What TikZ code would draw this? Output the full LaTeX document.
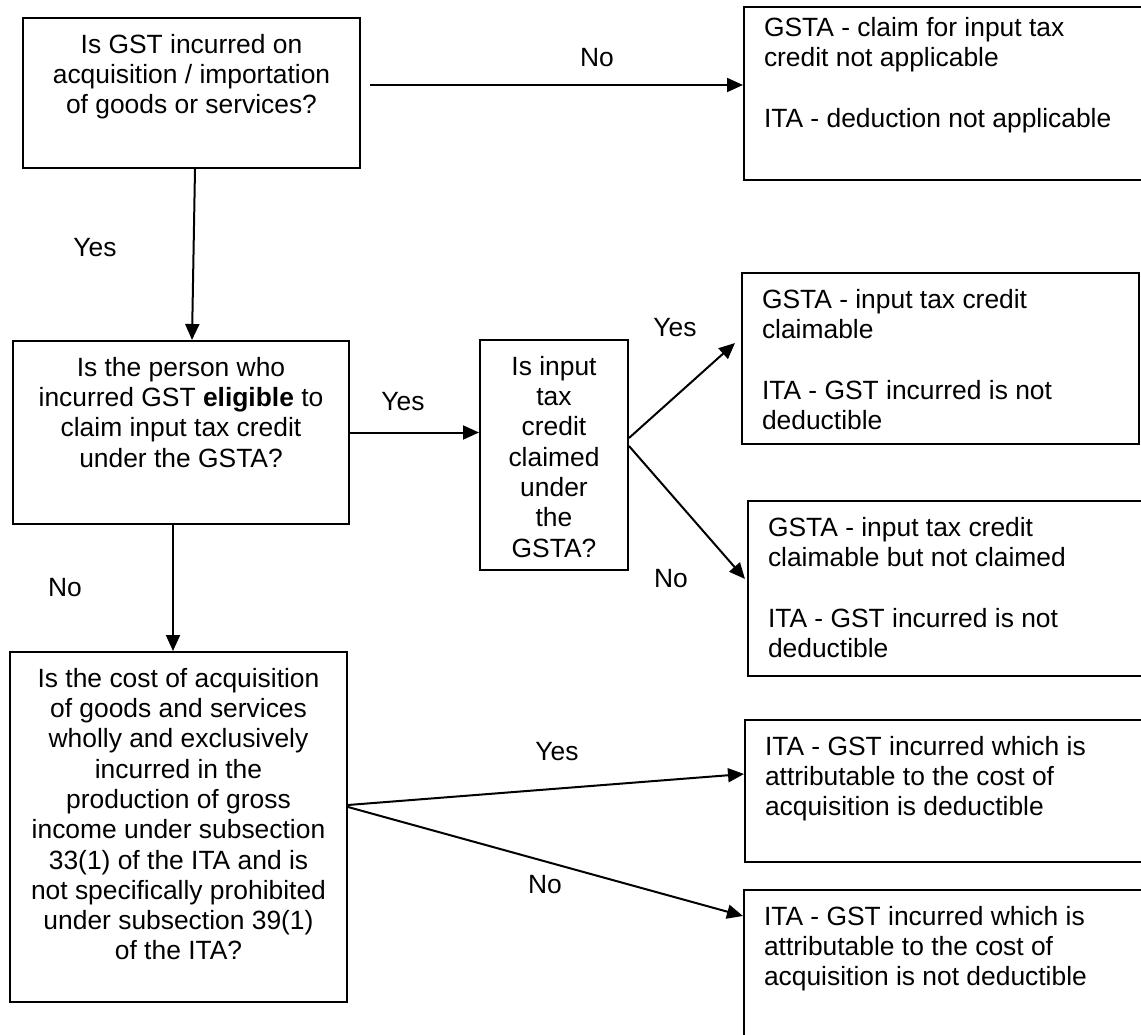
\documentclass[tikz,border=0pt]{standalone}
\usepackage{fontspec}
\setmainfont{Liberation Sans}
\usetikzlibrary{arrows.meta}
\newcommand{\boxtxt}[3]{\parbox[c][#1][t]{#2}{#3}}

\begin{document}
\begin{tikzpicture}[
  x=1pt, y=-1pt,
  every node/.style={font=\fontsize{26.4pt}{30.3pt}\selectfont},
  qbox/.style={draw, line width=2pt, anchor=north west, inner xsep=0pt, inner ysep=14pt},
  rbox/.style={qbox, inner xsep=20pt},
  lbl/.style={text height=19pt, text depth=0pt, inner sep=0pt},
  arr/.style={draw, line width=2pt, -{Triangle[length=16pt, width=14pt]}},
]
\useasboundingbox (0,0) rectangle (1141,1035);
\fill[white] (0,0) rectangle (1141,1035);
\clip (0,0) rectangle (1141,1035);
% --- Questions (left column) ---
\node[qbox] (qgst) at (22,17) {\boxtxt{122pt}{337pt}{\centering\strut
  Is GST incurred on\\acquisition / importation\\of goods or services?}};
\node[qbox] (qelig) at (12,340) {\boxtxt{155pt}{336pt}{\centering\strut
  Is the person who\\incurred GST \textbf{eligible} to\\claim input tax credit\\under the GSTA?}};
\node[qbox] (qclaim) at (479,339) {\boxtxt{202pt}{148pt}{\centering\strut
  Is input\\tax\\credit\\claimed\\under\\the\\GSTA?}};
\node[qbox] (qcost) at (9,651) {\boxtxt{322pt}{337pt}{\centering\strut
  Is the cost of acquisition\\of goods and services\\wholly and exclusively\\incurred in the\\production of gross\\income under subsection\\33(1) of the ITA and is\\not specifically prohibited\\under subsection 39(1)\\of the ITA?}};
% --- Results (right column) ---
\node[rbox] (rnone) at (743,6) {\boxtxt{145pt}{400pt}{\vspace*{-6pt}\strut
  GSTA - claim for input tax\\credit not applicable\\[30.3pt]ITA - deduction not applicable}};
\node[rbox] (rclaimed) at (741,272) {\boxtxt{143pt}{357pt}{\strut
  GSTA - input tax credit\\claimable\\[30.3pt]ITA - GST incurred is not\\deductible}};
\node[rbox] (runclaimed) at (747,500) {\boxtxt{147pt}{400pt}{\strut
  GSTA - input tax credit\\claimable but not claimed\\[30.3pt]ITA - GST incurred is not\\deductible}};
\node[rbox] (rded) at (744,719) {\boxtxt{114pt}{400pt}{\strut
  ITA - GST incurred which is\\attributable to the cost of\\acquisition is deductible}};
\node[rbox] (rnonded) at (743,889) {\boxtxt{143pt}{400pt}{\strut
  ITA - GST incurred which is\\attributable to the cost of\\acquisition is not deductible}};
% --- Connectors ---
\draw[arr] ([xshift=9pt,yshift=8pt]qgst.east) -- ([yshift=8pt]qgst.east -| rnone.west);
\draw[arr] ([xshift=3.5pt]qgst.south) -- ([xshift=11pt]qelig.north);
\draw[arr] (qelig.east) -- (qelig.east -| qclaim.west);
\draw[arr] ([xshift=-8pt]qelig.south) -- ([xshift=-8pt]qelig.south |- qcost.north);
\draw[arr] ([yshift=17pt]qclaim.east) -- ([xshift=-6pt,yshift=15.5pt]rclaimed.west);
\draw[arr] ([yshift=9pt]qclaim.east) -- ([xshift=-2pt,yshift=9.5pt]runclaimed.west);
\draw[arr] ([yshift=22pt]qcost.east) -- ([yshift=17pt]rded.west);
\draw[arr] ([yshift=20pt]qcost.east) -- ([yshift=-27pt]rnonded.north west);
% --- Labels ---
\node[lbl] (lno1) at (597,57) {No};
\node[lbl] (lyes1) at (95,247) {Yes};
\node[lbl] (lyes2) at (403,401) {Yes};
\node[lbl] (lno2) at (65,587) {No};
\node[lbl] (lyes3) at (675,327) {Yes};
\node[lbl] (lno3) at (671,578) {No};
\node[lbl] (lyes4) at (557,751) {Yes};
\node[lbl] (lno4) at (545,884) {No};
\end{tikzpicture}
\end{document}
